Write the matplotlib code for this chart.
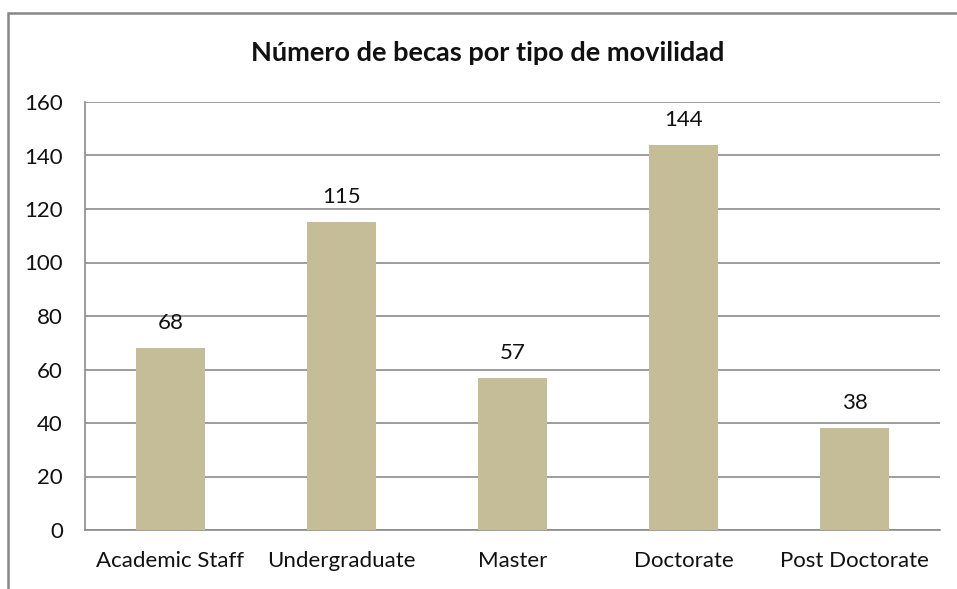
import matplotlib
matplotlib.use("Agg")
import matplotlib.pyplot as plt
from matplotlib.patches import Rectangle

plt.rcParams["font.family"] = ["Lato", "DejaVu Sans"]

categories = ["Academic Staff", "Undergraduate", "Master", "Doctorate", "Post Doctorate"]
becas = [68, 115, 57, 144, 38]
y_ticks = [0, 20, 40, 60, 80, 100, 120, 140, 160]

BAR_COLOR = "#C4BD97"
GRID_COLOR = "#8C8C8C"

fig = plt.figure(figsize=(9.57, 5.89), dpi=100)
ax = fig.add_axes([85 / 957, 1 - 530 / 589, (940 - 85) / 957, (530 - 102) / 589])

x = range(len(categories))
ax.bar(x, becas, width=0.4, color=BAR_COLOR, zorder=3)
for xi, v in zip(x, becas):
    ax.annotate(str(v), (xi, v), xytext=(0, 18), textcoords="offset points",
                ha="center", va="center", fontsize=16, color="#111111")

ax.set_xlim(-0.5, len(categories) - 0.5)
ax.set_ylim(0, 160)
ax.set_yticks(y_ticks)
ax.set_xticks(list(x))
ax.set_xticklabels(categories, fontsize=16, color="#111111")
ax.tick_params(axis="y", labelsize=16, labelcolor="#111111", length=0, pad=16)
ax.tick_params(axis="x", length=0, pad=15)
ax.yaxis.grid(True, color=GRID_COLOR, linewidth=1.2, zorder=0)
ax.set_axisbelow(True)

for side in ("top", "right"):
    ax.spines[side].set_visible(False)
for side in ("left", "bottom"):
    ax.spines[side].set_color(GRID_COLOR)
    ax.spines[side].set_linewidth(1.2)

fig.text(488 / 957, 1 - 53 / 589, "Número de becas por tipo de movilidad",
         ha="center", va="center", fontsize=19.5, fontweight="bold", color="#111111")

# outer chart frame (cut at right and bottom edges like the original)
frame = Rectangle((8 / 957, -0.05), 1.0, 1.05 - 13 / 589, transform=fig.transFigure,
                  fill=False, edgecolor="#868686", linewidth=1.8)
fig.patches.append(frame)

fig.savefig("out.png", dpi=100)
